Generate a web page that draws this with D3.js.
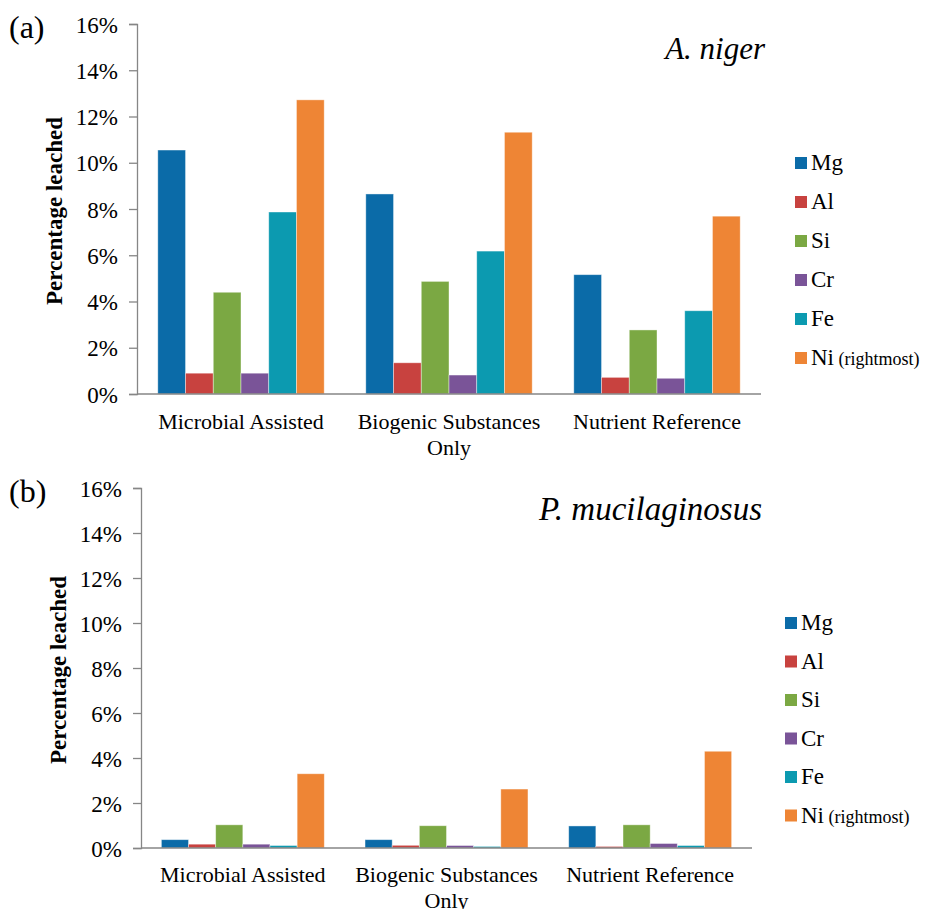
<!DOCTYPE html>
<html>
<head>
<meta charset="utf-8">
<script src="https://cdn.jsdelivr.net/npm/d3@7"></script>
<style>
  body { margin: 0; background: #fff; }
</style>
</head>
<body>
<script>
// categories and elements
var categories = ["Microbial Assisted", "Biogenic Substances Only", "Nutrient Reference"];
var categoryLines = [["Microbial Assisted"], ["Biogenic Substances", "Only"], ["Nutrient Reference"]];
var elements = ["Mg", "Al", "Si", "Cr", "Fe", "Ni"];
var colors = ["#0b6ba8", "#c8423f", "#7ba843", "#7a5498", "#0c9ab0", "#ee8535"];
var tickValues = [0, 2, 4, 6, 8, 10, 12, 14, 16];

// (a) A. niger, percent leached per category
var nigerMg = [10.55, 8.65, 5.16];
var nigerAl = [0.9, 1.35, 0.72];
var nigerSi = [4.4, 4.87, 2.77];
var nigerCr = [0.9, 0.82, 0.68];
var nigerFe = [7.87, 6.18, 3.6];
var nigerNi = [12.72, 11.32, 7.69];

// (b) P. mucilaginosus
var mucilMg = [0.37, 0.37, 0.98];
var mucilAl = [0.17, 0.12, 0.07];
var mucilSi = [1.03, 0.99, 1.03];
var mucilCr = [0.17, 0.11, 0.2];
var mucilFe = [0.11, 0.07, 0.11];
var mucilNi = [3.3, 2.62, 4.3];

var serif = "'Liberation Serif'";

var svg = d3.select("body").append("svg")
  .attr("width", 928)
  .attr("height", 909);

// puts the serif font inline on a text element
function font(sel, size) {
  return sel.style("font-family", serif).style("font-size", size + "px");
}

function drawPanel(p) {
  var series = p.series;
  var g = svg.append("g");

  var x = d3.scaleBand()
    .domain(categories)
    .range([p.left, p.right])
    .paddingInner(0.2)
    .paddingOuter(0.1);

  var xInner = d3.scaleBand()
    .domain(elements)
    .range([0, x.bandwidth()]);

  var y = d3.scaleLinear()
    .domain([0, 16])
    .range([p.bottom, p.top]);

  // bars
  categories.forEach(function(cat, ci) {
    g.selectAll(null)
      .data(elements)
      .enter()
      .append("rect")
      .attr("x", function(d) { return x(cat) + xInner(d); })
      .attr("y", function(d, i) { return y(series[i][ci]); })
      .attr("width", xInner.bandwidth())
      .attr("height", function(d, i) { return p.bottom - y(series[i][ci]); })
      .attr("fill", function(d, i) { return colors[i]; })
      .attr("stroke", "#fff")
      .attr("stroke-opacity", 0.5)
      .attr("stroke-width", 0.8);
  });

  // y axis
  var yAxis = d3.axisLeft(y)
    .tickValues(tickValues)
    .tickSize(8)
    .tickPadding(11)
    .tickFormat(function(d) { return d + "%"; });

  var ya = g.append("g")
    .attr("transform", "translate(" + p.left + ",0)")
    .call(yAxis);
  ya.select(".domain").attr("stroke", "#868686").attr("stroke-width", 1.3);
  ya.selectAll(".tick line").attr("stroke", "#868686").attr("stroke-width", 1.3);
  font(ya.selectAll(".tick text"), 23)
    .attr("fill", "#000")
    .attr("dy", "0.35em");

  // x axis line
  g.append("line")
    .attr("x1", p.left).attr("x2", p.right)
    .attr("y1", p.bottom).attr("y2", p.bottom)
    .attr("stroke", "#868686")
    .attr("stroke-width", 1.5);

  // category labels
  categories.forEach(function(cat, ci) {
    var t = font(g.append("text"), 22)
      .attr("text-anchor", "middle")
      .attr("x", x(cat) + x.bandwidth() / 2)
      .attr("y", p.bottom + p.labelOffset);
    categoryLines[ci].forEach(function(line, li) {
      t.append("tspan")
        .attr("x", x(cat) + x.bandwidth() / 2)
        .attr("dy", li == 0 ? 0 : 26)
        .text(line);
    });
  });

  // y axis title
  font(g.append("text"), 23)
    .attr("text-anchor", "middle")
    .style("font-weight", "bold")
    .attr("transform", "translate(" + p.yTitleX + "," + ((p.top + p.bottom) / 2 + 2) + ")rotate(-90)")
    .text("Percentage leached");

  // panel letter
  font(g.append("text"), 32)
    .attr("x", 9)
    .attr("y", p.top + 14)
    .text(p.letter);

  // organism name
  font(g.append("text"), p.titleSize)
    .attr("text-anchor", "end")
    .style("font-style", "italic")
    .attr("x", p.titleX)
    .attr("y", p.top + p.titleOffset)
    .text(p.title);

  // legend
  elements.forEach(function(el, i) {
    var ly = p.legendTop + i * p.legendStep;
    g.append("rect")
      .attr("x", p.legendX)
      .attr("y", ly - 13)
      .attr("width", 12)
      .attr("height", 12)
      .attr("fill", colors[i]);
    var t = font(g.append("text"), 23)
      .attr("x", p.legendX + 16)
      .attr("y", ly)
      .text(el);
    if (el == "Ni") {
      t.append("tspan")
        .style("font-size", "18px")
        .text(" (rightmost)");
    }
  });
}

drawPanel({
  letter: "(a)",
  title: "A. niger",
  titleSize: 31, titleX: 765, titleOffset: 35,
  series: [nigerMg, nigerAl, nigerSi, nigerCr, nigerFe, nigerNi],
  left: 137, right: 761, top: 24, bottom: 394,
  labelOffset: 35,
  yTitleX: 62,
  legendX: 795, legendTop: 170, legendStep: 39
});

drawPanel({
  letter: "(b)",
  title: "P. mucilaginosus",
  titleSize: 33, titleX: 762, titleOffset: 32,
  series: [mucilMg, mucilAl, mucilSi, mucilCr, mucilFe, mucilNi],
  left: 141, right: 752, top: 488, bottom: 848,
  labelOffset: 34,
  yTitleX: 66,
  legendX: 785, legendTop: 630, legendStep: 38.5
});
</script>
</body>
</html>
